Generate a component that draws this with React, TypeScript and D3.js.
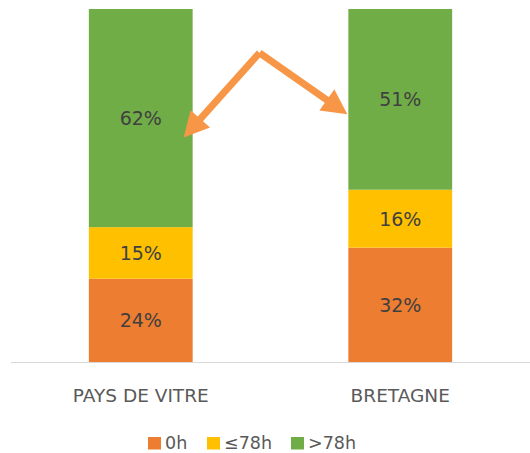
import React, { useEffect } from "react";
import * as d3 from "d3";

const categories = ["PAYS DE VITRE", "BRETAGNE"];
const seriesNames = ["0h", "≤78h", ">78h"];
const seriesColors = ["#ED7D31", "#FFC000", "#70AD47"];
const val0h = [23.6, 32.4];
const valLe78 = [14.6, 16.4];
const valGt78 = [61.8, 51.2];
const yTicks = [0, 100];

const W = 530;
const H = 453;

export default function App() {
  useEffect(() => {
    document.body.style.margin = "0";
  }, []);

  const x = d3.scaleBand<string>().domain(categories).range([11, 530]).paddingInner(0.6).paddingOuter(0.3);
  const y = d3.scaleLinear().domain([yTicks[0], yTicks[1]]).range([362, 9]);

  const rows = categories.map((c, i) => ({ cat: c, "0h": val0h[i], "≤78h": valLe78[i], ">78h": valGt78[i] }));
  const stack = d3.stack<any>().keys(seriesNames)(rows);

  const font = "'DejaVu Sans', sans-serif";

  // annotation arrows, positioned relative to scales
  const bw = x.bandwidth();
  const x1 = x(categories[0])! + bw;
  const x2 = x(categories[1])!;
  const apex: [number, number] = [(x1 + x2) / 2 - 11, y(87.6)];
  const tipL: [number, number] = [x1 - 9, y(63.6)];
  const tipR: [number, number] = [x2 - 1, y(70.2)];

  const arrow = (from: [number, number], to: [number, number], key: string) => {
    const dx = to[0] - from[0];
    const dy = to[1] - from[1];
    const len = Math.hypot(dx, dy);
    const ux = dx / len, uy = dy / len;
    const nx = -uy, ny = ux;
    const headLen = 25, headHalf = 13;
    const bx = to[0] - ux * headLen, by = to[1] - uy * headLen;
    const pts = [
      [to[0], to[1]],
      [bx + nx * headHalf, by + ny * headHalf],
      [bx - nx * headHalf, by - ny * headHalf],
    ];
    return (
      <g key={key}>
        <line x1={from[0]} y1={from[1]} x2={bx + ux * 2} y2={by + uy * 2} stroke="#F79646" strokeWidth={7} />
        <polygon points={pts.map((p) => p.join(",")).join(" ")} fill="#F79646" />
      </g>
    );
  };

  const legendX = [148, 207, 291];

  return (
    <svg width={W} height={H} style={{ display: "block" }} fontFamily={font}>
      <rect width={W} height={H} fill="#fff" />
      {stack.map((s, si) =>
        s.map((d, i) => (
          <g key={`${si}-${i}`}>
            <rect
              x={x(categories[i])}
              y={y(d[1])}
              width={bw}
              height={y(d[0]) - y(d[1])}
              fill={seriesColors[si]}
            />
            <text
              x={x(categories[i])! + bw / 2}
              y={(y(d[0]) + y(d[1])) / 2}
              dy="0.36em"
              textAnchor="middle"
              fontSize={19}
              fill="#404040"
            >
              {Math.round(d[1] - d[0])}%
            </text>
          </g>
        ))
      )}
      <line x1={11} x2={530} y1={y(0) + 0.5} y2={y(0) + 0.5} stroke="#D9D9D9" strokeWidth={1} />
      {categories.map((c) => (
        <text key={c} x={x(c)! + bw / 2} y={401.5} textAnchor="middle" fontSize={18.5} fill="#595959">
          {c}
        </text>
      ))}
      {arrow(apex, tipL, "l")}
      {arrow(apex, tipR, "r")}
      {seriesNames.map((n, i) => (
        <g key={n}>
          <rect x={legendX[i]} y={437} width={13} height={12.5} fill={seriesColors[i]} />
          <text x={legendX[i] + 17} y={449} fontSize={17.5} fill="#595959">
            {n}
          </text>
        </g>
      ))}
    </svg>
  );
}
